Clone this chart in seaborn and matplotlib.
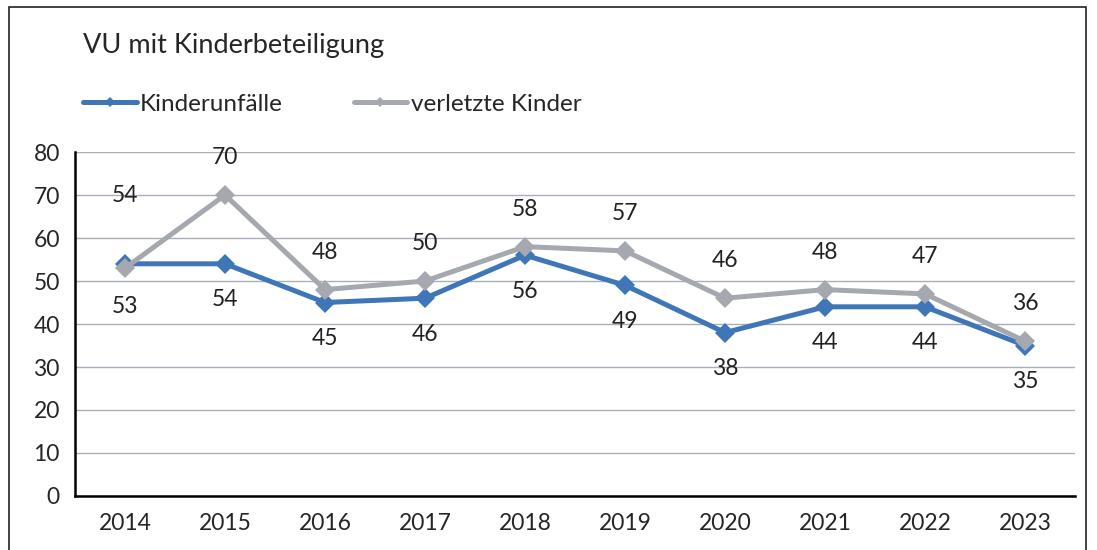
import matplotlib
matplotlib.use("Agg")
import matplotlib.pyplot as plt
from matplotlib.patches import Rectangle
import seaborn as sns
import pandas as pd

years = ["2014", "2015", "2016", "2017", "2018", "2019", "2020", "2021", "2022", "2023"]
kinderunfaelle = [54, 54, 45, 46, 56, 49, 38, 44, 44, 35]
verletzte_kinder = [53, 70, 48, 50, 58, 57, 46, 48, 47, 36]

blue = "#3F76B8"
grey = "#A5A9AF"

sns.set_theme(style="white")
plt.rcParams["font.family"] = ["Lato", "DejaVu Sans"]

df = pd.DataFrame({"pos": range(len(years)), "year": years,
                   "Kinderunfälle": kinderunfaelle, "verletzte Kinder": verletzte_kinder})

fig = plt.figure(figsize=(10.97, 5.5), dpi=100)
ax = fig.add_axes([0.0684, 0.0982, 0.9116, 0.6254])

sns.lineplot(data=df, x="pos", y="Kinderunfälle", ax=ax, color=blue, linewidth=3.6,
             marker="D", markersize=10, markeredgewidth=0, label="Kinderunfälle", zorder=3)
sns.lineplot(data=df, x="pos", y="verletzte Kinder", ax=ax, color=grey, linewidth=3.6,
             marker="D", markersize=10, markeredgewidth=0, label="verletzte Kinder", zorder=4)

# data labels (Excel placed the first pair the other way round)
for i, (b, g) in enumerate(zip(kinderunfaelle, verletzte_kinder)):
    ob = 49 if i == 0 else -26
    og = -28 if i == 0 else 27
    ax.annotate(str(b), (i, b), xytext=(0, ob), textcoords="offset points",
                ha="center", va="center", fontsize=16.5, color="#222222")
    ax.annotate(str(g), (i, g), xytext=(0, og), textcoords="offset points",
                ha="center", va="center", fontsize=16.5, color="#222222")

ax.set_xlim(-0.5, len(years) - 0.5)
ax.set_ylim(0, 80)
ax.set_yticks(range(0, 81, 10))
ax.set_xticks([x - 0.5 for x in range(len(years) + 1)])
ax.set_xticklabels([])
ax.set_xticks(range(len(years)), minor=True)
ax.set_xticklabels(years, minor=True)
ax.tick_params(axis="x", which="major", direction="out", length=6, width=1.5, color="black")
ax.tick_params(axis="x", which="minor", length=0, labelsize=16.5, pad=12)
ax.tick_params(axis="y", direction="out", length=6, width=1.5, color="black", labelsize=16.5, pad=5)
ax.set_xlabel("")
ax.set_ylabel("")
ax.grid(axis="y", color="#A8AFBB", linewidth=1)
ax.set_axisbelow(True)
for s in ["top", "right"]:
    ax.spines[s].set_visible(False)
for s in ["left", "bottom"]:
    ax.spines[s].set_color("black")
    ax.spines[s].set_linewidth(1.8)

leg = ax.legend(loc="upper left", bbox_to_anchor=(0.008, 1.17), ncol=2, frameon=False,
                fontsize=17.5, handlelength=2.2, handletextpad=0.15, columnspacing=2.9,
                markerscale=0.55, borderaxespad=0, borderpad=0)

fig.text(0.0756, 0.918, "VU mit Kinderbeteiligung", fontsize=19.5, va="center", ha="left")
fig.patches.append(Rectangle((0.0082, -0.1), 0.982, 1.087, transform=fig.transFigure,
                             fill=False, edgecolor="#222222", linewidth=1.2))

fig.savefig("out.png", dpi=100)
